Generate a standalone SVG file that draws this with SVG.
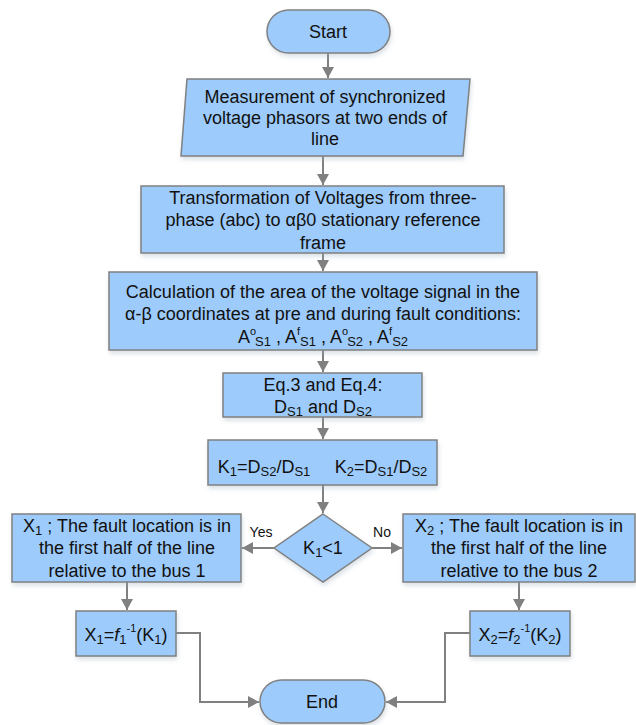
<svg xmlns="http://www.w3.org/2000/svg" width="636" height="725" viewBox="0 0 636 725">
<defs>
<style>
.n{fill:#9DCBFB;stroke:#808080;stroke-width:1.5;filter:url(#sh)}
.t{font-family:"Liberation Sans",Arial,sans-serif;font-size:18px;fill:#111;text-anchor:middle}
.l{font-family:"Liberation Sans",Arial,sans-serif;font-size:14px;fill:#111;text-anchor:middle}
.c{fill:none;stroke:#808080;stroke-width:2}
.sb{font-size:13px}
.sp{font-size:11px}
</style>
<filter id="sh" x="-10%" y="-10%" width="120%" height="130%">
<feDropShadow dx="1" dy="3" stdDeviation="2" flood-color="#9ab" flood-opacity="0.35"/>
</filter>
<marker id="ah" markerUnits="userSpaceOnUse" markerWidth="12" markerHeight="12" refX="11" refY="6" orient="auto">
<path d="M0,0 L11,6 L0,12 z" fill="#808080"/>
</marker>
</defs>
<rect width="636" height="725" fill="#fff"/>
<g id="connectors">
<path class="c" d="M328,53 V78" marker-end="url(#ah)"/>
<path class="c" d="M323,156 V185" marker-end="url(#ah)"/>
<path class="c" d="M323,253 V271" marker-end="url(#ah)"/>
<path class="c" d="M323,350 V372" marker-end="url(#ah)"/>
<path class="c" d="M323,417 V439" marker-end="url(#ah)"/>
<path class="c" d="M323,485 V513" marker-end="url(#ah)"/>
<path class="c" d="M274,548 H242" marker-end="url(#ah)"/>
<path class="c" d="M372,548 H402" marker-end="url(#ah)"/>
<path class="c" d="M127,582 V610" marker-end="url(#ah)"/>
<path class="c" d="M519,582 V610" marker-end="url(#ah)"/>
<path class="c" d="M176,633 H200 V702 H259" marker-end="url(#ah)"/>
<path class="c" d="M470,633 H445 V702 H386" marker-end="url(#ah)"/>
<text class="l" x="261" y="537">Yes</text>
<text class="l" x="382" y="537">No</text>
</g>
<g id="start">
<rect class="n" x="267" y="10" width="123" height="43" rx="21.5"/>
<text class="t" x="328" y="38">Start</text>
</g>
<g id="measure">
<polygon class="n" points="187,79 470,79 463,156 181,156"/>
<text class="t" x="325" y="103">Measurement of synchronized</text>
<text class="t" x="325" y="124">voltage phasors at two ends of</text>
<text class="t" x="325" y="145">line</text>
</g>
<g id="transform">
<rect class="n" x="141" y="186" width="363" height="67"/>
<text class="t" x="323" y="204">Transformation of Voltages from three-</text>
<text class="t" x="323" y="226">phase (abc) to αβ0 stationary reference</text>
<text class="t" x="323" y="249">frame</text>
</g>
<g id="area">
<rect class="n" x="109" y="272" width="428" height="78"/>
<text class="t" x="323" y="298">Calculation of the area of the voltage signal in the</text>
<text class="t" x="323" y="320">α-β coordinates at pre and during fault conditions:</text>
<text class="t" x="323" y="343">A<tspan class="sp" dy="-8">o</tspan><tspan class="sb" dx="-1" dy="11">S1</tspan><tspan dy="-3"> , A</tspan><tspan class="sp" dy="-8">f</tspan><tspan class="sb" dy="11">S1</tspan><tspan dy="-3">  , A</tspan><tspan class="sp" dy="-8">o</tspan><tspan class="sb" dx="-1" dy="11">S2</tspan><tspan dy="-3"> , A</tspan><tspan class="sp" dy="-8">f</tspan><tspan class="sb" dy="11">S2</tspan></text>
</g>
<g id="eq">
<rect class="n" x="223" y="373" width="199" height="44"/>
<text class="t" x="323" y="391">Eq.3 and Eq.4:</text>
<text class="t" x="323" y="413">D<tspan class="sb" dy="3">S1</tspan><tspan dy="-3"> and D</tspan><tspan class="sb" dy="3">S2</tspan></text>
</g>
<g id="kcalc">
<rect class="n" x="208" y="440" width="229" height="45"/>
<text class="t" x="264" y="473">K<tspan class="sb" dy="3">1</tspan><tspan dy="-3">=D</tspan><tspan class="sb" dy="3">S2</tspan><tspan dy="-3">/D</tspan><tspan class="sb" dy="3">S1</tspan></text>
<text class="t" x="381" y="473">K<tspan class="sb" dy="3">2</tspan><tspan dy="-3">=D</tspan><tspan class="sb" dy="3">S1</tspan><tspan dy="-3">/D</tspan><tspan class="sb" dy="3">S2</tspan></text>
</g>
<g id="decision">
<polygon class="n" points="323,514 372,548 323,582 274,548"/>
<text class="t" x="323" y="554">K<tspan class="sb" dy="3">1</tspan><tspan dy="-3">&lt;1</tspan></text>
</g>
<g id="x1">
<rect class="n" x="12" y="514" width="229" height="68"/>
<text class="t" x="127" y="532">X<tspan class="sb" dy="3">1</tspan><tspan dy="-3"> ; The fault location is in</tspan></text>
<text class="t" x="127" y="554">the first half of the line</text>
<text class="t" x="127" y="577">relative to the bus 1</text>
</g>
<g id="x2">
<rect class="n" x="403" y="514" width="232" height="68"/>
<text class="t" x="519" y="532">X<tspan class="sb" dy="3">2</tspan><tspan dy="-3"> ; The fault location is in</tspan></text>
<text class="t" x="519" y="554">the first half of the line</text>
<text class="t" x="519" y="577">relative to the bus 2</text>
</g>
<g id="x1f">
<rect class="n" x="76" y="611" width="100" height="45"/>
<text class="t" x="126" y="641">X<tspan class="sb" dy="3">1</tspan><tspan dy="-3">=</tspan><tspan font-style="italic">f</tspan><tspan class="sb" dy="3">1</tspan><tspan class="sp" dy="-12">-1</tspan><tspan dy="9">(K</tspan><tspan class="sb" dy="3">1</tspan><tspan dy="-3">)</tspan></text>
</g>
<g id="x2f">
<rect class="n" x="470" y="611" width="100" height="45"/>
<text class="t" x="520" y="641">X<tspan class="sb" dy="3">2</tspan><tspan dy="-3">=</tspan><tspan font-style="italic">f</tspan><tspan class="sb" dy="3">2</tspan><tspan class="sp" dy="-12">-1</tspan><tspan dy="9">(K</tspan><tspan class="sb" dy="3">2</tspan><tspan dy="-3">)</tspan></text>
</g>
<g id="end">
<rect class="n" x="260" y="680" width="125" height="43" rx="21.5"/>
<text class="t" x="322" y="708">End</text>
</g>
</svg>
